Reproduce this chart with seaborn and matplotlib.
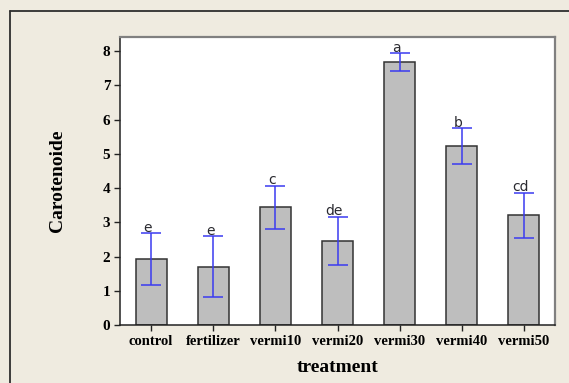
import matplotlib
matplotlib.use("Agg")
import matplotlib.pyplot as plt
import seaborn as sns
import pandas as pd
from matplotlib.lines import Line2D

categories = ["control", "fertilizer", "vermi10", "vermi20", "vermi30", "vermi40", "vermi50"]
means = [1.92, 1.70, 3.44, 2.45, 7.68, 5.22, 3.20]
errors = [0.76, 0.89, 0.63, 0.71, 0.25, 0.52, 0.66]
letters = ["e", "e", "c", "de", "a", "b", "cd"]
yticks = [0, 1, 2, 3, 4, 5, 6, 7, 8]

df = pd.DataFrame({"treatment": categories, "Carotenoide": means})

sns.set_theme(style="ticks")
serif = ["Liberation Serif", "DejaVu Serif"]
bg = "#EFEBE0"

fig = plt.figure(figsize=(5.69, 3.83), dpi=100, facecolor=bg)
ax = fig.add_axes([120 / 569, 58 / 383, 435 / 569, 288 / 383])
ax.set_facecolor("white")

sns.barplot(data=df, x="treatment", y="Carotenoide", color="#BEBEBE",
            width=0.5, edgecolor="#333333", linewidth=1.1, errorbar=None,
            saturation=1, ax=ax)

xpos = list(range(len(categories)))
ax.errorbar(xpos, means, yerr=errors, fmt="none", ecolor="#3B3BF0",
            elinewidth=1.1, capsize=7, capthick=1.1)

for x, m, e, t in zip(xpos, means, errors, letters):
    ax.text(x - 0.05, m + e - 0.04, t, ha="center", va="bottom",
            fontsize=10, color="#2A2A30", family=["Tahoma", "DejaVu Sans"])

ax.set_xlim(-0.5, 6.5)
ax.set_ylim(0, 8.41)
ax.set_yticks(yticks)
ax.set_yticklabels([str(v) for v in yticks], family=serif, fontweight="bold",
                   fontsize=11, color="black")
ax.set_xticks(xpos)
ax.set_xticklabels(categories, family=serif, fontweight="bold", fontsize=10.5, color="black")
ax.tick_params(axis="both", direction="out", length=4, width=1, color="#222222", pad=3)
ax.tick_params(axis="x", pad=3)

ax.set_xlabel("treatment", family=serif, fontweight="bold", fontsize=14, labelpad=8, color="black")
ax.set_ylabel("Carotenoide", family=serif, fontweight="bold", fontsize=14, labelpad=26, color="black")

for side in ["left", "bottom"]:
    ax.spines[side].set_color("#222222")
    ax.spines[side].set_linewidth(1.1)
for side in ["top", "right"]:
    ax.spines[side].set_visible(True)
    ax.spines[side].set_color("#808080")
    ax.spines[side].set_linewidth(1.6)

# outer frame of the panel
fx = 9.5 / 569
fy = 1 - 10.5 / 383
fig.add_artist(Line2D([fx, fx], [0, fy], transform=fig.transFigure, color="#2E2E2E", lw=1.3))
fig.add_artist(Line2D([fx, 1], [fy, fy], transform=fig.transFigure, color="#2E2E2E", lw=1.3))

fig.savefig("out.png", dpi=100, facecolor=bg)
